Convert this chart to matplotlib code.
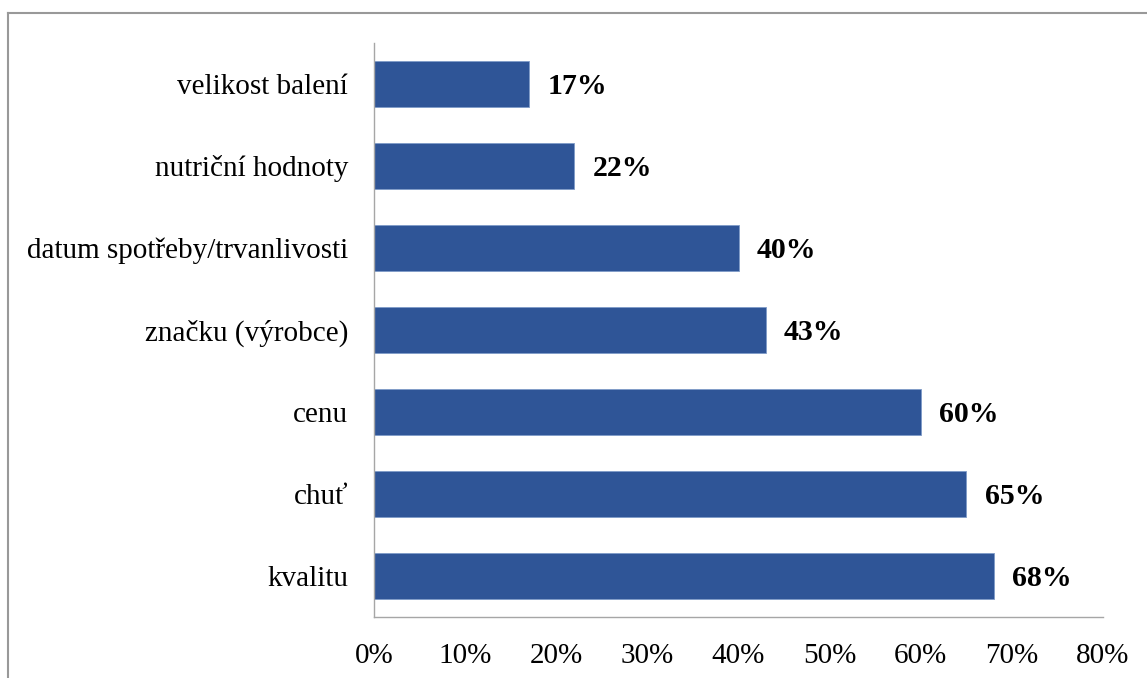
import matplotlib.pyplot as plt
from matplotlib.lines import Line2D

# survey answers, bottom to top
categories = ["kvalitu", "chuť", "cenu", "značku (výrobce)",
              "datum spotřeby/trvanlivosti", "nutriční hodnoty", "velikost balení"]
shares = [68, 65, 60, 43, 40, 22, 17]
xticks = [0, 10, 20, 30, 40, 50, 60, 70, 80]

plt.rcParams['font.family'] = ['Liberation Serif', 'DejaVu Serif']

fig = plt.figure(figsize=(11.47, 6.78), dpi=100)
ax = fig.add_axes([374 / 1147, 1 - 617 / 678, (1103 - 374) / 1147, (617 - 43) / 678])

bar_color = '#2F5597'
ax.barh(range(len(categories)), shares, height=0.57, color=bar_color,
        edgecolor='#7F9BC8', linewidth=0.6)

for i, v in enumerate(shares):
    ax.text(v + 2.0, i - 0.03, f"{v}%", va='center', ha='left',
            fontsize=21.5, fontweight='bold', color='black')

ax.set_xlim(0, 80)
ax.set_ylim(-0.5, len(categories) - 0.5)
ax.set_yticks(range(len(categories)))
ax.set_yticklabels(categories, fontsize=21)
ax.set_xticks(xticks)
ax.set_xticklabels([f"{t}%" for t in xticks], fontsize=21)
ax.tick_params(axis='both', length=0)
ax.tick_params(axis='y', pad=18.5)
ax.tick_params(axis='x', pad=19)

for side in ['top', 'right']:
    ax.spines[side].set_visible(False)
for side in ['left', 'bottom']:
    ax.spines[side].set_color('#A6A6A6')
    ax.spines[side].set_linewidth(1.0)

# chart area border
fx = 8 / 1147
fy = 1 - 13 / 678
fig.add_artist(Line2D([fx, fx], [0, fy], transform=fig.transFigure, color='#999999', lw=1.5))
fig.add_artist(Line2D([fx, 1], [fy, fy], transform=fig.transFigure, color='#999999', lw=1.5))

fig.savefig('out.png', dpi=100)
